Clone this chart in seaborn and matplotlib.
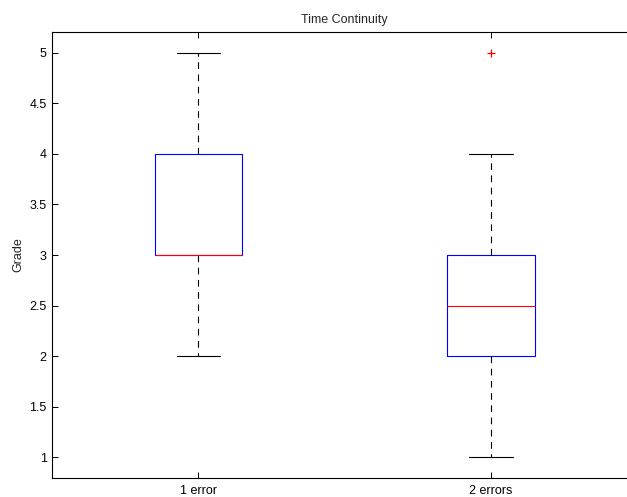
import matplotlib
matplotlib.use("Agg")
import matplotlib.pyplot as plt
import seaborn as sns
import pandas as pd

# Data (raw grades reconstructed to reproduce the box statistics)
categories = ["1 error", "2 errors"]
grades_1_error = [2, 3, 3, 3, 4, 4, 5]
grades_2_errors = [1, 2, 2, 2, 2, 3, 3, 3, 4, 5]
yticks = [1, 1.5, 2, 2.5, 3, 3.5, 4, 4.5, 5]
ytick_labels = ["1", "1.5", "2", "2.5", "3", "3.5", "4", "4.5", "5"]

df = pd.DataFrame({
    "group": [categories[0]] * len(grades_1_error) + [categories[1]] * len(grades_2_errors),
    "Grade": grades_1_error + grades_2_errors,
})

sns.set_style("white")
plt.rcParams["font.family"] = ["Liberation Sans", "DejaVu Sans"]

fig = plt.figure(figsize=(6.27, 4.97), dpi=100)
# axes extend beyond the right edge (as in the reference, right spine is cropped)
ax = fig.add_axes([52.3 / 627, 19.3 / 497, (637 - 52.3) / 627, (477.7 - 32.3) / 497])

lw = 0.8
sns.boxplot(
    data=df, x="group", y="Grade", order=categories, ax=ax,
    fill=False, width=0.3, whis=1.5, linewidth=lw,
    boxprops=dict(color="blue", linewidth=lw),
    medianprops=dict(color="red", linewidth=lw, zorder=5),
    whiskerprops=dict(color="black", linewidth=lw, linestyle=(0, (6, 5))),
    capprops=dict(color="black", linewidth=lw),
    flierprops=dict(marker="+", markersize=6, markeredgewidth=0.9),
)

# outliers drawn as red '+' markers
for line in ax.get_lines():
    if str(line.get_linestyle()) in ("None", "none", "", " ") or line.get_marker() not in (None, "None", "none", ""):
        line.set_markeredgecolor((1, 0, 0))
        line.set_markerfacecolor((1, 0, 0))

ax.set_xlim(-0.5, 1.5)
ax.set_ylim(0.8, 5.2)
ax.set_yticks(yticks)
ax.set_yticklabels(ytick_labels)
ax.set_xlabel("")
ax.set_ylabel("Grade", fontsize=9, labelpad=4)
ax.set_title("Time Continuity", fontsize=9, pad=7)

for s in ["left", "top", "bottom"]:
    ax.spines[s].set_visible(True)
    ax.spines[s].set_color("black")
    ax.spines[s].set_linewidth(0.8)
ax.spines["right"].set_visible(False)

ax.tick_params(axis="both", which="major", direction="in", length=4, width=0.7,
               labelsize=9, colors="black", top=True, right=False, bottom=True, left=True)
ax.tick_params(axis="y", pad=4)
ax.tick_params(axis="x", pad=5)
ax.grid(False)

fig.savefig("out.png", dpi=100)
